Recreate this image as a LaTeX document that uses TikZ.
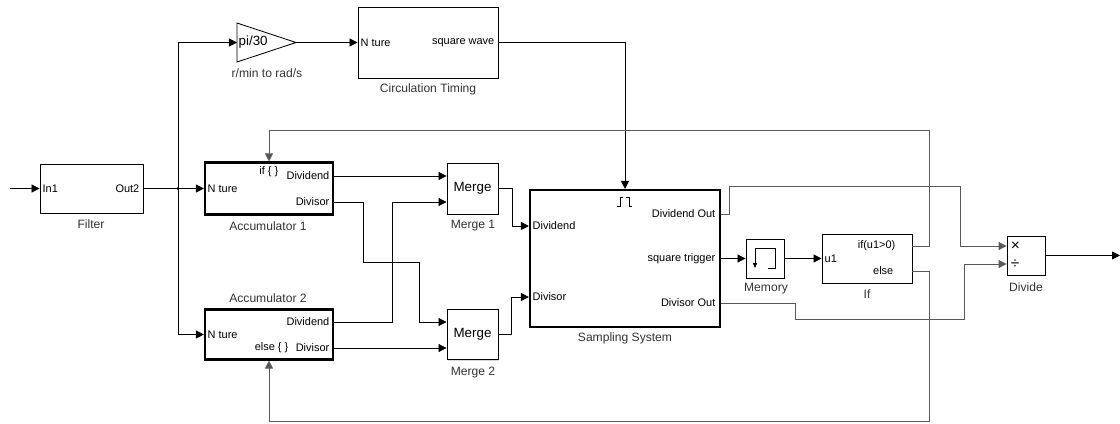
\documentclass[tikz,border=0pt]{standalone}
\usepackage{fontspec}
\setmainfont{Liberation Sans}
\usetikzlibrary{arrows.meta,shadows}

\begin{document}
\begin{tikzpicture}[x=0.025cm, y=-0.025cm,
    block/.style={draw, line width=0.6pt, fill=white, inner sep=0pt, drop shadow={shadow xshift=1pt, shadow yshift=-1pt, fill=black!30}},
    subsys/.style={block, line width=1.5pt},
    port/.style={font=\fontsize{7.8}{9}\selectfont, inner sep=1pt},
    bigtxt/.style={font=\fontsize{9.5}{11}\selectfont, inner sep=1pt},
    opsym/.style={font=\fontsize{11}{12}\selectfont, inner sep=0.5pt},
    caption/.style={font=\fontsize{8.6}{10}\selectfont, color=black!80, inner sep=0pt},
    sig/.style={-{Triangle[length=2mm, width=2mm]}, line width=0.6pt},
    wire/.style={line width=0.6pt},
    fb/.style={sig, draw=black!65}
  ]
    \useasboundingbox (0,0) rectangle (1120,423);

    % Blocks
    \node[block, minimum width=2.575cm, minimum height=1.225cm] (filter) at (91.5,188.5) {};
    \node[block, minimum width=3.5cm, minimum height=1.775cm] (circ) at (428,42.5) {};
    \node[subsys, minimum width=3.2cm, minimum height=1.3cm] (acca) at (269,188.5) {};
    \node[subsys, minimum width=3.2cm, minimum height=1.25cm] (accb) at (269,334.5) {};
    \node[block, bigtxt, minimum width=1.275cm, minimum height=1.275cm] (mrga) at (472.5,188.5) {Merge};
    \node[block, bigtxt, minimum width=1.275cm, minimum height=1.25cm] (mrgb) at (472.5,334.5) {Merge};
    \node[subsys, minimum width=4.75cm, minimum height=3.425cm] (samp) at (625,258.5) {};
    \node[block, minimum width=0.95cm, minimum height=0.975cm] (mem) at (765,258.5) {};
    \node[block, minimum width=2.25cm, minimum height=1.225cm] (ifb) at (867,258.5) {};
    \node[block, minimum width=0.95cm, minimum height=0.975cm] (div) at (1026,255.5) {};

    % Gain
    \draw[wire, fill=white] (237,23) -- (296,42.5) -- (237,62) -- cycle;
    \coordinate (gainin) at (237,42.5);
    \coordinate (gainout) at (296,42.5);
    \node[bigtxt, anchor=west] (gaintxt) at (237,42.5) {pi/30};

    % Icons
    \draw[wire] (755,248) -- (775,248) -- (775,268) -- (768,268);
    \draw[wire, -{Triangle[length=1.3mm, width=1.1mm]}] (755,248) -- (755,268);
    \draw[line width=0.6pt] (617,206) -- (620,206) -- (620,197) -- (623,197);
    \draw[line width=0.6pt] (626,197) -- (629,197) -- (629,206) -- (632,206);

    % Ports
    \node[port, anchor=west] (fltin) at (41,188.5) {In1};
    \node[port, anchor=east] (fltout) at (141,188.5) {Out2};
    \node[port, anchor=west] (circin) at (359,42.5) {N ture};
    \node[port, anchor=east] (circout) at (496,42.5) {square wave};
    \node[port, anchor=west] (accain) at (206,188.5) {N ture};
    \node[port, anchor=east] (accaif) at (280,172) {if \{ \}};
    \node[port, anchor=east] (accadvd) at (331,176) {Dividend};
    \node[port, anchor=east] (accadvs) at (331,202) {Divisor};
    \node[port, anchor=west] (accbin) at (206,334.5) {N ture};
    \node[port, anchor=east] (accbdvd) at (331,322) {Dividend};
    \node[port, anchor=east] (accbelse) at (290,348) {else \{ \}};
    \node[port, anchor=east] (accbdvs) at (331,348) {Divisor};
    \node[port, anchor=west] (spdvd) at (531,226) {Dividend};
    \node[port, anchor=west] (spdvs) at (531,297) {Divisor};
    \node[port, anchor=east] (spdvdo) at (717,214) {Dividend Out};
    \node[port, anchor=east] (spsqt) at (717,258.5) {square trigger};
    \node[port, anchor=east] (spdvso) at (717,303) {Divisor Out};
    \node[port, anchor=west] (ifu) at (823,258.5) {u1};
    \node[port, anchor=east] (ifif) at (897,246) {if(u1>0)};
    \node[port, anchor=east] (ifelse) at (895,271) {else};
    \node[opsym, anchor=west] (divmul) at (1010,246) {×};
    \node[opsym, anchor=west] (divdiv) at (1010,264) {÷};

    % Signals
    \coordinate (src) at (10,188.5);
    \coordinate (dst) at (1120,255.5);
    \coordinate (br) at (178,188.5);
    \draw[sig] (src) -- (filter.west);
    \draw[wire] (filter.east) -- (br);
    \fill (br) circle (1.2pt);
    \draw[sig] (br) |- (gainin);
    \draw[sig] (br) -- (acca.west);
    \draw[sig] (br) |- (accb.west);
    \draw[sig] (gainout) -- (circ.west);
    \draw[sig] (circ.east) -| (samp.north);
    \draw[sig] (acca.east |- accadvd) -- (mrga.west |- accadvd);
    \draw[sig] (acca.east |- accadvs) -- ++(29,0) |- ++(56,60) |- (mrgb.west |- accbdvd);
    \draw[sig] (accb.east |- accbdvd) -- ++(58,0) |- (mrga.west |- accadvs);
    \draw[sig] (accb.east |- accbdvs) -- (mrgb.west |- accbdvs);
    \draw[sig] (mrga.east) -- ++(14,0) |- (samp.west |- spdvd);
    \draw[sig] (mrgb.east) -- ++(13,0) |- (samp.west |- spdvs);
    \draw[sig] (samp.east |- spsqt) -- (mem.west);
    \draw[sig] (mem.east) -- (ifb.west);
    \draw[fb] (ifb.east |- ifif) -- ++(17,0) -- ++(0,-116) -| (acca.north);
    \draw[fb] (ifb.east |- ifelse) -- ++(17,0) -- ++(0,150) -| (accb.south);
    \draw[fb] (samp.east |- spdvdo) -- ++(8,0) |- ++(231,-28) |- (div.west |- divmul);
    \draw[fb] (samp.east |- spdvso) -- ++(74,0) |- ++(169,16) |- (div.west |- divdiv);
    \draw[sig] (div.east) -- (dst);

    % Labels
    \node[caption] (filterlbl) at (91,224) {Filter};
    \node[caption] (gainlbl) at (267,73) {r/min to rad/s};
    \node[caption] (circlbl) at (428,89) {Circulation Timing};
    \node[caption] (accalbl) at (268,226) {Accumulator 1};
    \node[caption] (accblbl) at (268,298) {Accumulator 2};
    \node[caption] (mrgalbl) at (473,226) {Merge 1};
    \node[caption] (mrgblbl) at (473,373) {Merge 2};
    \node[caption] (samplbl) at (625,338) {Sampling System};
    \node[caption] (memlbl) at (766,289) {Memory};
    \node[caption] (iflbl) at (867,294) {If};
    \node[caption] (divlbl) at (1026,287) {Divide};
  \end{tikzpicture}
\end{document}
